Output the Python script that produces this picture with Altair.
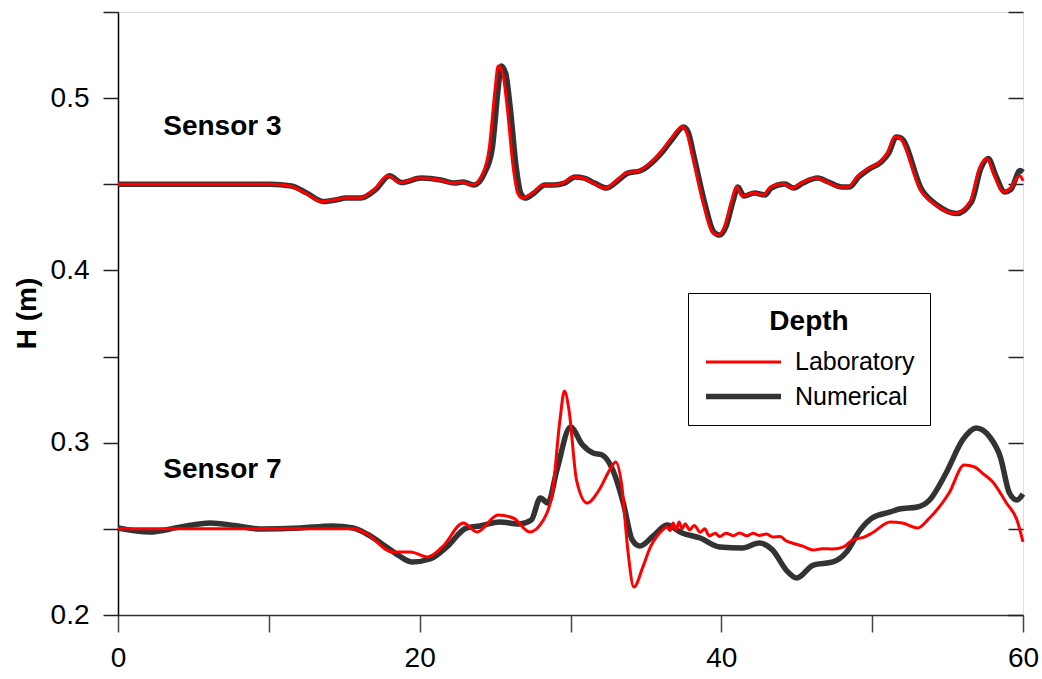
import altair as alt
import pandas as pd

# ---- Sensor 3 ----
s3_lab_t = [0, 5.4, 10.1, 11.4, 12.4, 13.5, 14.4, 15.0, 16.0, 17.0, 17.9, 18.7, 20.0, 21.3, 22.2,
            22.8, 23.5, 24.2, 24.6, 25.0, 25.2, 25.5, 25.8, 26.2, 26.5, 26.8, 27.5, 28.2, 28.8,
            29.5, 30.2, 30.8, 31.5, 32.3, 33.1, 33.7, 34.5, 35.5, 36.1, 36.7, 37.4, 37.7, 38.1,
            38.8, 39.4, 39.8, 40.2, 40.7, 41.0, 41.4, 42.1, 42.8, 43.2, 44.1, 44.7, 45.3, 46.3,
            47.0, 47.9, 48.4, 49.0, 49.7, 50.5, 51.0, 51.5, 51.8, 53.2, 54.2, 55.5, 56.5, 57.1,
            57.6, 58.1, 58.7, 59.1, 59.8, 60.0]
s3_lab_h = [0.450, 0.450, 0.450, 0.449, 0.445, 0.440, 0.441, 0.442, 0.442, 0.447, 0.455, 0.451,
            0.4536, 0.4525, 0.4507, 0.4513, 0.4496, 0.4565, 0.470, 0.505, 0.5186, 0.5145, 0.495,
            0.460, 0.4449, 0.442, 0.445, 0.4496, 0.4496, 0.4507, 0.4542, 0.4536, 0.4507, 0.4478,
            0.4525, 0.4565, 0.4577, 0.4641, 0.4699, 0.4768, 0.4832, 0.4803, 0.4658, 0.4391,
            0.4223, 0.4205, 0.4252, 0.4409, 0.4484, 0.4432, 0.4449, 0.4438, 0.4478, 0.4501,
            0.4478, 0.4507, 0.4536, 0.4513, 0.4484, 0.4484, 0.4542, 0.4588, 0.4629, 0.4681,
            0.4774, 0.4770, 0.4467, 0.438, 0.433, 0.440, 0.459, 0.465, 0.455, 0.4455, 0.447,
            0.455, 0.452]

s3_num_t = [0, 5.4, 10.1, 11.5, 12.5, 13.6, 14.5, 15.1, 16.1, 17.1, 18.0, 18.8, 20.1, 21.4, 22.3,
            22.9, 23.6, 24.3, 24.8, 25.2, 25.4, 25.7, 26.0, 26.4, 26.7, 27.0, 27.6, 28.3, 28.9,
            29.6, 30.3, 30.9, 31.6, 32.4, 33.2, 33.8, 34.6, 35.6, 36.2, 36.8, 37.5, 37.8, 38.2,
            38.9, 39.5, 39.9, 40.3, 40.8, 41.1, 41.5, 42.2, 42.9, 43.3, 44.2, 44.8, 45.4, 46.4,
            47.1, 48.0, 48.5, 49.1, 49.8, 50.6, 51.1, 51.6, 51.9, 53.3, 54.3, 55.6, 56.6, 57.2,
            57.7, 58.2, 58.8, 59.2, 59.8, 60.0]
s3_num_h = [0.450, 0.450, 0.450, 0.449, 0.445, 0.440, 0.441, 0.442, 0.442, 0.447, 0.455, 0.451,
            0.4536, 0.4525, 0.4507, 0.4513, 0.4496, 0.4565, 0.470, 0.505, 0.5186, 0.5145, 0.495,
            0.460, 0.4449, 0.442, 0.445, 0.4496, 0.4496, 0.4507, 0.4542, 0.4536, 0.4507, 0.4478,
            0.4525, 0.4565, 0.4577, 0.4641, 0.4699, 0.4768, 0.4832, 0.4803, 0.4658, 0.4391,
            0.4223, 0.4205, 0.4252, 0.4409, 0.4484, 0.4432, 0.4449, 0.4438, 0.4478, 0.4501,
            0.4478, 0.4507, 0.4536, 0.4513, 0.4484, 0.4484, 0.4542, 0.4588, 0.4629, 0.4681,
            0.4774, 0.4770, 0.4467, 0.438, 0.433, 0.440, 0.459, 0.465, 0.455, 0.4455, 0.447,
            0.458, 0.457]

# ---- Sensor 7 ----
s7_num_t = [0, 2.1, 4.1, 6.1, 7.7, 9.4, 12.1, 14.2, 15.6, 16.5, 17.8, 18.7, 19.5, 20.7, 21.8,
            23.1, 24.0, 25.3, 26.6, 27.4, 28.0, 28.5, 29.1, 30.0, 30.8, 31.5, 32.1, 32.8, 33.5,
            34.1, 34.6, 35.5, 36.4, 37.4, 38.6, 39.9, 41.4, 42.5, 43.4, 44.3, 45.0, 46.1, 47.4,
            48.3, 49.2, 50.0, 51.2, 51.8, 53.0, 53.8, 54.9, 56.0, 56.9, 57.8, 58.5, 59.1, 59.6,
            60.0]
s7_num_h = [0.2505, 0.2482, 0.251, 0.2534, 0.252, 0.2499, 0.2505, 0.2517, 0.2505, 0.247, 0.2395,
            0.234, 0.2308, 0.2325, 0.2395, 0.2505, 0.2517, 0.254, 0.2528, 0.2551, 0.2679, 0.265,
            0.2842, 0.3091, 0.2987, 0.294, 0.2929, 0.2842, 0.265, 0.2435, 0.240, 0.246, 0.2522,
            0.2476, 0.2447, 0.2395, 0.2389, 0.2418, 0.2377, 0.2261, 0.2215, 0.229, 0.2308, 0.2366,
            0.2493, 0.2563, 0.2598, 0.2615, 0.2627, 0.2667, 0.2824, 0.3016, 0.3085, 0.3033,
            0.2917, 0.2708, 0.2667, 0.2702]

s7_lab_t = [0, 5.0, 10.0, 15.6, 16.5, 18.2, 19.4, 20.5, 21.5, 22.9, 23.8, 25.2, 26.2, 27.3, 28.2,
            28.8, 29.3, 29.6, 29.9, 30.4, 31.1, 31.9, 32.6, 33.0, 33.4, 33.8, 34.2, 34.8, 35.3,
            35.7, 36.1, 36.4, 36.6, 36.8, 37.0, 37.2, 37.4, 37.6, 37.9, 38.2, 38.6, 38.9, 39.2,
            39.6, 39.9, 40.3, 40.8, 41.2, 41.7, 42.1, 42.5, 43.0, 43.4, 43.9, 44.3, 44.7, 45.4,
            46.1, 46.7, 47.4, 48.1, 48.7, 49.4, 50.0, 51.2, 52.0, 53.0, 53.8, 55.1, 56.1, 56.8,
            57.3, 58.0, 58.9, 59.6, 60.0]
s7_lab_h = [0.250, 0.250, 0.250, 0.250, 0.247, 0.2366, 0.2366, 0.2337, 0.2395, 0.2534, 0.2482,
            0.258, 0.2563, 0.2482, 0.2551, 0.2708, 0.3132, 0.330, 0.319, 0.2783, 0.265, 0.2726,
            0.2842, 0.2888, 0.275, 0.2377, 0.2162, 0.2279, 0.2395, 0.2453, 0.2493, 0.2511, 0.2490,
            0.2534, 0.2495, 0.2540, 0.2500, 0.2530, 0.2495, 0.2520, 0.2480, 0.2500, 0.2460,
            0.2475, 0.2455, 0.2475, 0.2460, 0.2476, 0.2460, 0.2475, 0.2462, 0.2470, 0.2453,
            0.2455, 0.2430, 0.2418, 0.2400, 0.2377, 0.2385, 0.2383, 0.2395, 0.2435, 0.2450,
            0.2476, 0.254, 0.2534, 0.2505, 0.2563, 0.2708, 0.2871, 0.2859, 0.2824, 0.2772,
            0.265, 0.2551, 0.2424]

series_names = ["Laboratory", "Numerical"]
series_colors = ["#ff0000", "#333333"]
series_widths = [3, 5.5]

sensor_names = ["Sensor 3", "Sensor 7"]
sensor_label_t = [3.0, 3.0]
sensor_label_h = [0.4786, 0.2795]

x_ticks = [0, 10, 20, 30, 40, 50, 60]
y_ticks = [0.2, 0.25, 0.3, 0.35, 0.4, 0.45, 0.5, 0.55]


def frame(t, h, depth, sensor):
    return pd.DataFrame({"t": t, "H": h, "Depth": depth, "Sensor": sensor})


lab = pd.concat([frame(s3_lab_t, s3_lab_h, "Laboratory", "Sensor 3"),
                 frame(s7_lab_t, s7_lab_h, "Laboratory", "Sensor 7")])
num = pd.concat([frame(s3_num_t, s3_num_h, "Numerical", "Sensor 3"),
                 frame(s7_num_t, s7_num_h, "Numerical", "Sensor 7")])
labels = pd.DataFrame({"t": sensor_label_t, "H": sensor_label_h, "text": sensor_names})

FONT = "Liberation Sans"

x_enc = alt.X("t:Q", scale=alt.Scale(domain=[0, 60], nice=False, zero=False),
              axis=alt.Axis(values=x_ticks, labelExpr="datum.value % 20 == 0 ? datum.label : ''",
                            title=None, tickSize=17, labelPadding=12, labelFontSize=28,
                            labelFont=FONT, labelColor="black", tickColor="#444",
                            domainColor="#333", domainWidth=1.5, tickWidth=1.5, grid=False,
                            labelFlush=False))

y_scale = alt.Scale(domain=[0.2, 0.55], nice=False, zero=False)

left_axis = alt.Axis(values=y_ticks, orient="left",
                     labelExpr="round(datum.value * 100) % 10 == 0 ? format(datum.value, '.1f') : ''",
                     title="H (m)", titleFont=FONT, titleFontSize=28, titleFontWeight="bold",
                     titleColor="black", titleAngle=-90, titleX=-91, titleY=301,
                     titleAlign="center", titleBaseline="middle",
                     tickSize=15, labelPadding=14, labelFontSize=28, labelFont=FONT,
                     labelColor="black", tickColor="#222", domainColor="black",
                     domainWidth=1.5, tickWidth=1.5, grid=False, labelFlush=False)

# mirrored ticks on the right edge, pointing into the plot
right_axis = alt.Axis(values=y_ticks, orient="right", offset=-15, labels=False, domain=False,
                      title=None, tickSize=15, tickColor="#222", tickWidth=1.5, grid=False)

legend = alt.Legend(
    title="Depth", orient="none", legendX=570, legendY=281,
    padding=15, fillColor="white", strokeColor="black",
    titleFont=FONT, titleFontSize=28, titleFontWeight="bold", titleColor="black",
    titleAnchor="middle", titlePadding=12,
    labelFont=FONT, labelFontSize=25, labelColor="black", labelOffset=61,
    symbolType="M-1,0H5", symbolSize=625, rowPadding=6,
)

color_enc = alt.Color("Depth:N", scale=alt.Scale(domain=series_names, range=series_colors),
                      legend=legend)
width_enc = alt.StrokeWidth("Depth:N", scale=alt.Scale(domain=series_names, range=series_widths),
                            legend=legend)

num_layer = alt.Chart(num).mark_line(interpolate="monotone").encode(
    x=x_enc, y=alt.Y("H:Q", scale=y_scale, axis=left_axis),
    color=color_enc, strokeWidth=width_enc, detail="Sensor:N",
)

lab_layer = alt.Chart(lab).mark_line(interpolate="monotone").encode(
    x=x_enc, y=alt.Y("H:Q", scale=y_scale, axis=right_axis),
    color=color_enc, strokeWidth=width_enc, detail="Sensor:N",
)

# sensor captions, placed in data coordinates
text_layer = alt.Chart(labels).mark_text(
    align="left", baseline="alphabetic", font=FONT, fontSize=28, fontWeight="bold", color="black"
).encode(
    x=x_enc,
    y=alt.Y("H:Q", scale=y_scale, axis=None),
    text="text:N",
)

chart = alt.layer(num_layer, lab_layer, text_layer).resolve_axis(y="independent").properties(
    width=905, height=603,
    autosize=alt.AutoSizeParams(type="none"),
    padding={"left": 118, "top": 12, "right": 19, "bottom": 64},
).configure_view(
    stroke="#555", strokeWidth=2
).configure(background="white")

chart.save("out.html", embed_options={"renderer": "svg", "actions": False})
